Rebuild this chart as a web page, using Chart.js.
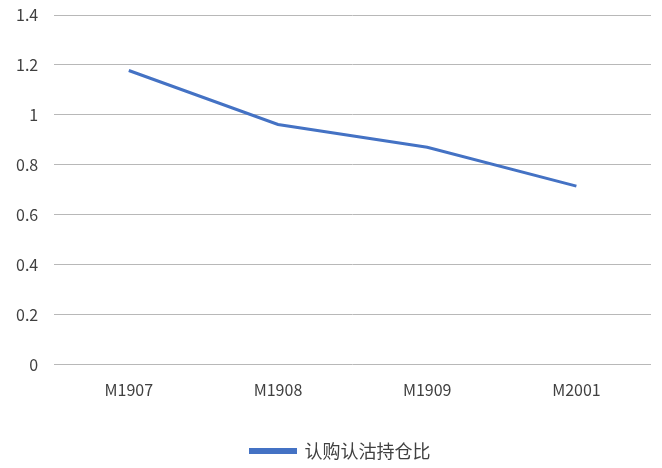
<!DOCTYPE html>
<html>
<head>
<meta charset="utf-8">
<script src="https://cdn.jsdelivr.net/npm/chart.js@4"></script>
<style>
  html, body { margin: 0; padding: 0; background: #fff; }
  #wrap { width: 662px; height: 468px; }
</style>
</head>
<body>
<div id="wrap"><canvas id="ratioChart" width="662" height="468"></canvas></div>
<script>
const months = ["M1907", "M1908", "M1909", "M2001"];
const ratio = [1.178, 0.962, 0.871, 0.715];
const seriesName = "认购认沽持仓比";

const font = "'Noto Sans CJK SC', 'Liberation Sans', sans-serif";

// nudge the legend a little right, like the original
const legendShift = {
    id: "legendShift",
    afterLayout(chart) {
        chart.legend.left += 15;
        chart.legend.right += 15;
    }
};

new Chart(document.getElementById("ratioChart").getContext("2d"), {
    type: "line",
    data: {
        labels: months,
        datasets: [{
            label: seriesName,
            data: ratio,
            borderColor: "#4472C4",
            backgroundColor: "#4472C4",
            borderWidth: 3,
            pointRadius: 0,
            tension: 0,
            fill: false
        }]
    },
    options: {
        responsive: false,
        animation: false,
        layout: { padding: { top: 0, right: 11, left: 0, bottom: -2 } },
        plugins: {
            tooltip: { enabled: false },
            legend: {
                position: "bottom",
                labels: {
                    color: "#404040",
                    font: { family: font, size: 18 },
                    boxWidth: 45,
                    boxHeight: 3,
                    padding: 10
                }
            }
        },
        scales: {
            x: {
                offset: true,
                grid: { display: false },
                border: { display: false },
                ticks: { color: "#404040", font: { family: font, size: 16 }, padding: 8 },
                afterFit: scale => { scale.height += 24; }
            },
            y: {
                min: 0,
                max: 1.4,
                grid: { color: "#b8b8b8", lineWidth: 1, drawTicks: false },
                border: { display: false },
                ticks: {
                    stepSize: 0.2,
                    color: "#404040",
                    font: { family: font, size: 16, lineHeight: 1 },
                    padding: 16,
                    callback: v => String(parseFloat(v.toFixed(1)))
                },
                afterFit: scale => { scale.paddingTop = 15; }
            }
        }
    },
    plugins: [legendShift]
});
</script>
</body>
</html>
